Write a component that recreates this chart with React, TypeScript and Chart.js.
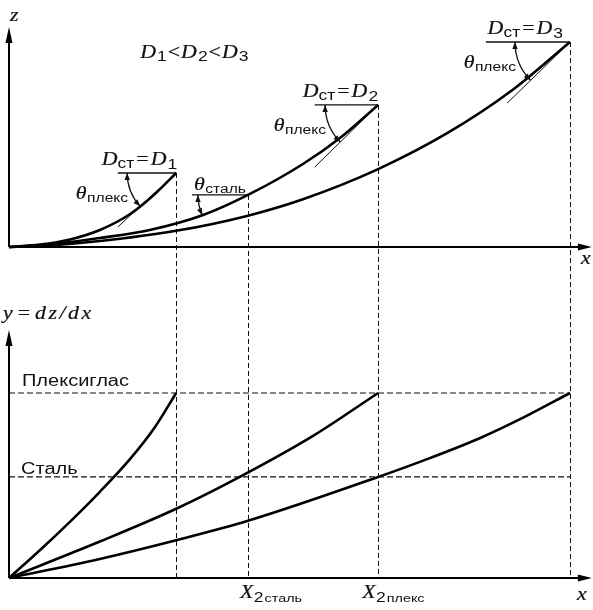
import React, { useEffect, useRef } from 'react';
import { Chart, registerables } from 'chart.js';

Chart.register(...registerables);

// ---------------- data (arbitrary units) ----------------
// top panel: profiles z(x) for three diameters
const d1X = [0, 0.55, 1.09, 1.62, 2.16, 2.6, 2.98];
const d1Z = [0, 0.12, 0.37, 0.83, 1.61, 2.59, 3.61];
const d2X = [0, 0.73, 1.62, 2.51, 3.46, 4.26, 5.24, 5.9, 6.58];
const d2Z = [0, 0.12, 0.44, 0.83, 1.56, 2.54, 4.05, 5.32, 6.93];
const d3X = [0, 0.73, 1.62, 2.98, 4.26, 5.24, 6.58, 7.81, 8.98, 10];
const d3Z = [0, 0.08, 0.29, 0.79, 1.53, 2.33, 3.8, 5.55, 7.67, 10];

// bottom panel: slope y = dz/dx
const s1X = [0, 0.55, 1.09, 1.62, 2.16, 2.6, 2.98];
const s1Y = [0, 0.15, 0.305, 0.466, 0.644, 0.815, 1.0];
const s2X = [0, 1.62, 2.98, 4.08, 5.42, 6.58];
const s2Y = [0, 0.197, 0.374, 0.541, 0.768, 1.0];
const s3X = [0, 1.62, 2.98, 4.26, 6.58, 7.5, 8.4, 9.2, 10];
const s3Y = [0, 0.103, 0.204, 0.309, 0.546, 0.648, 0.757, 0.872, 1.0];

// critical slope levels
const levelPlex = 1.0;
const levelSteel = 0.546;
const levelNames = ['Плексиглас', 'Сталь'];

// marks on the x axis
const X2Steel = 4.26;
const X2Plex = 6.58;

// starts of the thin tangent lines (x, z) for D1, D2, D3
const tanX = [1.94, 5.45, 8.88];
const tanZ = [0.98, 3.9, 7.02];
// starts of the short horizontal reference lines at the profile tops
const horizStartX = [1.94, 5.45, 8.5];
const steelHorizStartX = 3.26;
// point of D2 where the steel angle ends
const steelAngleX = 3.46;
const steelAngleZ = 1.56;

// axis extents
const X_AXIS_END = 10.39;
const Z_AXIS_END = 10.73;
const Y_AXIS_END = 1.34;

// ---------------- helpers ----------------
const pts = (xs: number[], ys: number[]) => xs.map((x, i) => ({ x, y: ys[i] }));
const last = (a: number[]) => a[a.length - 1];

const SXM = 1.15; // horizontal stretch of math glyphs
const SXS = 1.25; // horizontal stretch of sans glyphs
const MATH = 'italic 19px "Liberation Serif"';
const REL = '19px "Liberation Serif"';
const DIG = '14px "Liberation Sans"';
const SUB14 = '14px "Liberation Sans"';
const SUB12 = '12.5px "Liberation Sans"';
const SUB11 = '11.5px "Liberation Sans"';
const LBL = '16px "Liberation Sans"';

type Run = { t: string; f: string; dy?: number; g?: number };

const stretchOf = (f: string) => (f.includes('Serif') ? SXM : SXS);

function runsWidth(ctx: CanvasRenderingContext2D, runs: Run[]) {
  let w = 0;
  for (const r of runs) {
    ctx.font = r.f;
    w += ctx.measureText(r.t).width * stretchOf(r.f) + (r.g ?? 0);
  }
  return w;
}

function drawRuns(ctx: CanvasRenderingContext2D, runs: Run[], x: number, y: number, align: 'left' | 'right' = 'left') {
  let cx = align === 'right' ? x - runsWidth(ctx, runs) : x;
  ctx.textAlign = 'left';
  ctx.textBaseline = 'alphabetic';
  for (const r of runs) {
    ctx.font = r.f;
    const sx = stretchOf(r.f);
    const w = ctx.measureText(r.t).width;
    ctx.save();
    ctx.translate(cx, y + (r.dy ?? 0));
    ctx.scale(sx, 1);
    ctx.fillText(r.t, 0, 0);
    if (r.f.includes('Serif')) {
      ctx.lineWidth = 0.22;
      ctx.strokeText(r.t, 0, 0);
    }
    ctx.restore();
    cx += w * sx + (r.g ?? 0);
  }
}

function arrowHead(ctx: CanvasRenderingContext2D, tx: number, ty: number, dx: number, dy: number, len: number, half: number) {
  const n = Math.hypot(dx, dy);
  const ux = dx / n, uy = dy / n;
  const bx = tx - ux * len, by = ty - uy * len;
  ctx.beginPath();
  ctx.moveTo(tx, ty);
  ctx.lineTo(bx - uy * half, by + ux * half);
  ctx.lineTo(bx + uy * half, by - ux * half);
  ctx.closePath();
  ctx.fill();
}

function angleArc(ctx: CanvasRenderingContext2D, cx: number, cy: number, r: number, ex: number, ey: number) {
  const a2 = Math.atan2(ey - cy, ex - cx);
  ctx.lineWidth = 1.3;
  ctx.beginPath();
  ctx.arc(cx, cy, r, a2, Math.PI, false);
  ctx.stroke();
  arrowHead(ctx, cx - r, cy, 0, -1, 7, 2.7);
  arrowHead(ctx, cx + r * Math.cos(a2), cy + r * Math.sin(a2), Math.sin(a2), -Math.cos(a2), 7, 2.7);
}

const INK = '#111';

const decor = {
  id: 'decor',
  beforeDatasetsDraw(chart: any) {
    const ctx: CanvasRenderingContext2D = chart.ctx;
    const xs = chart.scales.x, yz = chart.scales.yz, yd = chart.scales.yd;
    const drops = [
      [last(d1X), last(d1Z)],
      [X2Steel, d2Z[d2X.indexOf(X2Steel)]],
      [last(d2X), last(d2Z)],
      [last(d3X), last(d3Z)],
    ];
    ctx.save();
    ctx.strokeStyle = INK;
    ctx.lineWidth = 1;
    ctx.setLineDash([5, 3]);
    for (const [x, z] of drops) {
      const px = Math.round(xs.getPixelForValue(x)) + 0.5;
      ctx.beginPath();
      ctx.moveTo(px, yz.getPixelForValue(z));
      ctx.lineTo(px, yd.getPixelForValue(0));
      ctx.stroke();
    }
    ctx.restore();
  },
  afterDatasetsDraw(chart: any) {
    const ctx: CanvasRenderingContext2D = chart.ctx;
    const xs = chart.scales.x, yz = chart.scales.yz, yd = chart.scales.yd;
    ctx.save();
    ctx.strokeStyle = '#000';
    ctx.fillStyle = '#000';
    ctx.setLineDash([]);

    // axes
    const x0 = xs.getPixelForValue(0);
    const xEnd = xs.getPixelForValue(X_AXIS_END);
    const zTop0 = yz.getPixelForValue(0);
    const zTopEnd = yz.getPixelForValue(Z_AXIS_END);
    const yBot0 = yd.getPixelForValue(0);
    const yBotEnd = yd.getPixelForValue(Y_AXIS_END);
    ctx.lineWidth = 2;
    ctx.beginPath();
    ctx.moveTo(x0, zTop0); ctx.lineTo(xEnd - 8, zTop0);
    ctx.moveTo(x0, zTop0); ctx.lineTo(x0, zTopEnd + 8);
    ctx.moveTo(x0, yBot0); ctx.lineTo(xEnd - 8, yBot0);
    ctx.moveTo(x0, yBot0); ctx.lineTo(x0, yBotEnd + 8);
    ctx.stroke();
    arrowHead(ctx, xEnd, zTop0, 1, 0, 14, 3.5);
    arrowHead(ctx, x0, zTopEnd, 0, -1, 16, 3.5);
    arrowHead(ctx, xEnd, yBot0, 1, 0, 14, 3.5);
    arrowHead(ctx, x0, yBotEnd, 0, -1, 16, 3.5);

    // angle arcs (plexiglass) at profile ends
    const ends = [[last(d1X), last(d1Z)], [last(d2X), last(d2Z)], [last(d3X), last(d3Z)]];
    const radii = [49, 53, 55];
    ctx.fillStyle = INK;
    ctx.strokeStyle = INK;
    ends.forEach(([x, z], i) => {
      const cx = xs.getPixelForValue(x), cy = yz.getPixelForValue(z);
      const tx = xs.getPixelForValue(tanX[i]), ty = yz.getPixelForValue(tanZ[i]);
      angleArc(ctx, cx, cy, radii[i], tx, ty);
      // θплекс label
      drawRuns(ctx, [{ t: 'θ', f: MATH, g: 0.5 }, { t: 'плекс', f: SUB12, dy: 3 }], cx - radii[i] + 1, cy + 26, 'right');
      // Dст = Di label
      const off = [1, 0, -7][i];
      drawRuns(ctx, [
        { t: 'D', f: MATH },
        { t: 'ст', f: SUB14, dy: 3, g: 2 },
        { t: '=', f: REL, g: 2 },
        { t: 'D', f: MATH, g: 1 },
        { t: String(i + 1), f: DIG, dy: 4 },
      ], cx + off, cy - 8, 'right');
    });

    // steel angle
    {
      const cx = xs.getPixelForValue(X2Steel), cy = yz.getPixelForValue(d2Z[d2X.indexOf(X2Steel)]);
      const ex = xs.getPixelForValue(steelAngleX), ey = yz.getPixelForValue(steelAngleZ);
      angleArc(ctx, cx, cy, 50, ex, ey);
      drawRuns(ctx, [{ t: 'θ', f: MATH, g: 0.5 }, { t: 'сталь', f: SUB12, dy: 3 }], cx - 2, cy - 5, 'right');
    }

    // headline D1<D2<D3
    drawRuns(ctx, [
      { t: 'D', f: MATH, g: 1 }, { t: '1', f: DIG, dy: 3, g: 1 }, { t: '<', f: REL, g: 1 },
      { t: 'D', f: MATH, g: 1 }, { t: '2', f: DIG, dy: 3, g: 1 }, { t: '<', f: REL, g: 1 },
      { t: 'D', f: MATH, g: 1 }, { t: '3', f: DIG, dy: 3 },
    ], xs.getPixelForValue(2.34), yz.getPixelForValue(9.22));

    // axis labels
    drawRuns(ctx, [{ t: 'z', f: MATH }], x0 + 1, zTopEnd - 6);
    drawRuns(ctx, [{ t: 'x', f: MATH }], xEnd - 11, zTop0 + 17);
    drawRuns(ctx, [{ t: 'x', f: MATH }], xEnd - 15, yBot0 + 22);
    drawRuns(ctx, [
      { t: 'y', f: MATH, g: 5 }, { t: '=', f: REL, g: 5 },
      { t: 'd', f: MATH, g: 2.5 }, { t: 'z', f: MATH, g: 2.5 }, { t: '/', f: MATH, g: 2.5 },
      { t: 'd', f: MATH, g: 2.5 }, { t: 'x', f: MATH },
    ], x0 - 6, yBotEnd - 11);

    // level names
    drawRuns(ctx, [{ t: levelNames[0], f: LBL }], x0 + 13, yd.getPixelForValue(levelPlex) - 7);
    drawRuns(ctx, [{ t: levelNames[1], f: LBL }], x0 + 12, yd.getPixelForValue(levelSteel) - 3);

    // X2 marks
    drawRuns(ctx, [{ t: 'X', f: MATH, g: 0.5 }, { t: '2', f: DIG, dy: 4, g: 1 }, { t: 'сталь', f: SUB11, dy: 4 }], xs.getPixelForValue(X2Steel) - 8, yBot0 + 20);
    drawRuns(ctx, [{ t: 'X', f: MATH, g: 0.5 }, { t: '2', f: DIG, dy: 4, g: 1 }, { t: 'плекс', f: SUB11, dy: 4 }], xs.getPixelForValue(X2Plex) - 16, yBot0 + 20);

    ctx.restore();
  },
};

function curve(data: { x: number; y: number }[], yAxisID: string, width: number, extra: any = {}) {
  return {
    data,
    xAxisID: 'x',
    yAxisID,
    showLine: true,
    borderColor: '#000',
    backgroundColor: '#000',
    borderWidth: width,
    pointRadius: 0,
    pointHoverRadius: 0,
    fill: false,
    tension: 0.4,
    cubicInterpolationMode: 'monotone',
    ...extra,
  };
}

function straight(data: { x: number; y: number }[], yAxisID: string, width: number, extra: any = {}) {
  return curve(data, yAxisID, width, { tension: 0, cubicInterpolationMode: 'default', ...extra });
}

export default function App() {
  const ref = useRef<HTMLCanvasElement>(null);
  useEffect(() => {
    const canvas = ref.current;
    if (!canvas) return;
    const ends = [[last(d1X), last(d1Z)], [last(d2X), last(d2Z)], [last(d3X), last(d3Z)]];
    const steelZ = d2Z[d2X.indexOf(X2Steel)];
    const datasets: any[] = [
      curve(pts(d1X, d1Z), 'yz', 2.6),
      curve(pts(d2X, d2Z), 'yz', 2.6),
      curve(pts(d3X, d3Z), 'yz', 2.6),
      ...ends.map(([x, z], i) => straight([{ x: tanX[i], y: tanZ[i] }, { x, y: z }], 'yz', 1, { borderColor: INK })),
      ...ends.map(([x, z], i) => straight([{ x: horizStartX[i], y: z }, { x, y: z }], 'yz', 1.3, { borderColor: INK })),
      straight([{ x: steelHorizStartX, y: steelZ }, { x: X2Steel, y: steelZ }], 'yz', 1.3, { borderColor: INK }),
      straight([{ x: 0, y: levelPlex }, { x: last(d3X), y: levelPlex }], 'yd', 1.2, { borderColor: INK, borderDash: [6, 3] }),
      straight([{ x: 0, y: levelSteel }, { x: last(d3X), y: levelSteel }], 'yd', 1.2, { borderColor: INK, borderDash: [6, 3] }),
      curve(pts(s1X, s1Y), 'yd', 2.6),
      curve(pts(s2X, s2Y), 'yd', 2.6),
      curve(pts(s3X, s3Y), 'yd', 2.6),
    ];
    const chart = new Chart(canvas, {
      type: 'scatter',
      data: { datasets },
      options: {
        animation: false,
        responsive: false,
        maintainAspectRatio: false,
        events: [],
        layout: { padding: 0 },
        plugins: { legend: { display: false }, tooltip: { enabled: false }, title: { display: false } },
        scales: {
          x: { type: 'linear', min: -0.1604, max: 10.41, display: false, bounds: 'data' },
          yz: { type: 'linear', position: 'left', min: -17.707, max: 12.049, display: false, bounds: 'data' },
          yd: { type: 'linear', position: 'left', min: -0.173, max: 3.124, display: false, bounds: 'data' },
        },
      } as any,
      plugins: [decor as any],
    });
    return () => chart.destroy();
  }, []);
  return (
    <div style={{ position: 'fixed', left: 0, top: 0, width: 593, height: 610, background: '#fff' }}>
      <canvas ref={ref} width={593} height={610} style={{ display: 'block', width: 593, height: 610 }} />
    </div>
  );
}
